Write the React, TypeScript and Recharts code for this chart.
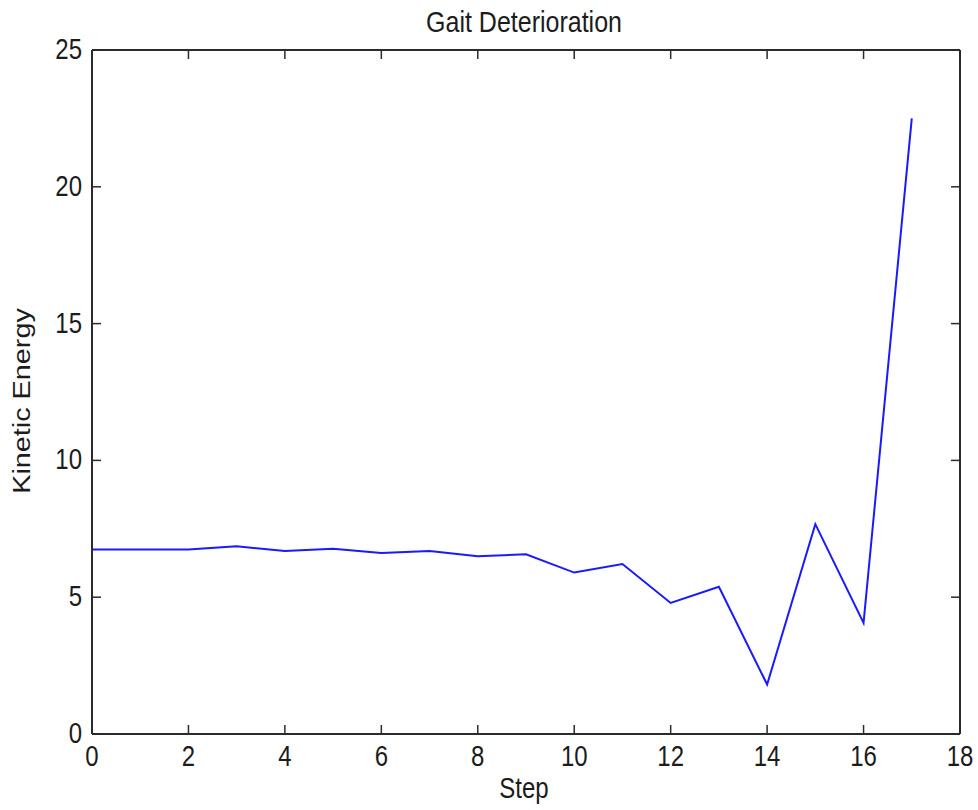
import { Line, LineChart, XAxis, YAxis } from "recharts";

const steps = [0, 1, 2, 3, 4, 5, 6, 7, 8, 9, 10, 11, 12, 13, 14, 15, 16, 17];
const kineticEnergy = [
    6.74, 6.74, 6.74, 6.86, 6.69, 6.77, 6.62, 6.69, 6.5, 6.57, 5.9, 6.21, 4.79, 5.38, 1.81, 7.67, 4.06, 22.5,
];
const xTicks = [0, 2, 4, 6, 8, 10, 12, 14, 16, 18];
const yTicks = [0, 5, 10, 15, 20, 25];

const TITLE = "Gait Deterioration";
const X_LABEL = "Step";
const Y_LABEL = "Kinetic Energy";

const AXIS = "#2b2b2b";
const TEXT = "#1c1c1c";
const FONT = "'Liberation Sans', Arial, sans-serif";
const TICK_LEN = 9;

const W = 978;
const H = 810;
// bordes del area de trazado
const LEFT = 92;
const RIGHT = 960;
const TOP = 50;
const BOTTOM = 734;

// estiramos el texto en vertical, como en la figura original
const stretch = (x: number, y: number) => `translate(${x},${y}) scale(1,1.2)`;

const BottomTick = ({ x, payload }: any) => (
    <g>
        <line x1={x} x2={x} y1={BOTTOM} y2={BOTTOM - TICK_LEN} stroke={AXIS} strokeWidth={1.5} />
        <text transform={stretch(x, BOTTOM + 32)} textAnchor="middle" fontSize={24} fill={TEXT} fontFamily={FONT}>
            {payload.value}
        </text>
    </g>
);

const LeftTick = ({ y, payload }: any) => (
    <g>
        <line x1={LEFT} x2={LEFT + TICK_LEN} y1={y} y2={y} stroke={AXIS} strokeWidth={1.5} />
        <text transform={stretch(LEFT - 10, y + 9)} textAnchor="end" fontSize={24} fill={TEXT} fontFamily={FONT}>
            {payload.value}
        </text>
    </g>
);

const TopTick = ({ x }: any) => (
    <line x1={x} x2={x} y1={TOP} y2={TOP + TICK_LEN} stroke={AXIS} strokeWidth={1.5} />
);

const RightTick = ({ y }: any) => (
    <line x1={RIGHT} x2={RIGHT - TICK_LEN} y1={y} y2={y} stroke={AXIS} strokeWidth={1.5} />
);

export default function App() {
    const data = steps.map((s, i) => ({ step: s, energy: kineticEnergy[i] }));

    // fixed para que no salga barra de scroll con el margen del body
    return (
        <div style={{ position: "fixed", left: 0, top: 0, width: W, height: H, background: "#fff" }}>
            <LineChart width={W} height={H} data={data} margin={{ top: 0, right: 0, bottom: 0, left: 0 }}>
                <XAxis
                    xAxisId="bottom"
                    dataKey="step"
                    type="number"
                    domain={[0, 18]}
                    ticks={xTicks}
                    height={H - BOTTOM}
                    tickSize={0}
                    tickLine={false}
                    tick={<BottomTick />}
                    axisLine={{ stroke: AXIS, strokeWidth: 2 }}
                    interval={0}
                    allowDataOverflow
                />
                <XAxis
                    xAxisId="top"
                    orientation="top"
                    dataKey="step"
                    type="number"
                    domain={[0, 18]}
                    ticks={xTicks}
                    height={TOP}
                    tickSize={0}
                    tickLine={false}
                    tick={<TopTick />}
                    axisLine={{ stroke: AXIS, strokeWidth: 2 }}
                    interval={0}
                    allowDataOverflow
                />
                <YAxis
                    yAxisId="left"
                    type="number"
                    domain={[0, 25]}
                    ticks={yTicks}
                    width={LEFT}
                    tickSize={0}
                    tickLine={false}
                    tick={<LeftTick />}
                    axisLine={{ stroke: AXIS, strokeWidth: 2 }}
                    interval={0}
                    allowDataOverflow
                />
                <YAxis
                    yAxisId="right"
                    orientation="right"
                    type="number"
                    domain={[0, 25]}
                    ticks={yTicks}
                    width={W - RIGHT}
                    tickSize={0}
                    tickLine={false}
                    tick={<RightTick />}
                    axisLine={{ stroke: AXIS, strokeWidth: 2 }}
                    interval={0}
                    allowDataOverflow
                />
                <Line
                    xAxisId="bottom"
                    yAxisId="left"
                    type="linear"
                    dataKey="energy"
                    stroke="#1a1aff"
                    strokeWidth={2}
                    dot={false}
                    activeDot={false}
                    isAnimationActive={false}
                />
            </LineChart>
            <svg
                width={W}
                height={H}
                style={{ position: "absolute", left: 0, top: 0, pointerEvents: "none" }}
            >
                <text transform={stretch(524, 32)} textAnchor="middle" fontSize={25} fill={TEXT} fontFamily={FONT}>
                    {TITLE}
                </text>
                <text transform={stretch(524, 798)} textAnchor="middle" fontSize={24} fill={TEXT} fontFamily={FONT}>
                    {X_LABEL}
                </text>
                <text
                    transform={`translate(30,401) scale(1,1.2) rotate(-90)`}
                    textAnchor="middle"
                    fontSize={24}
                    fill={TEXT}
                    fontFamily={FONT}
                >
                    {Y_LABEL}
                </text>
            </svg>
        </div>
    );
}
